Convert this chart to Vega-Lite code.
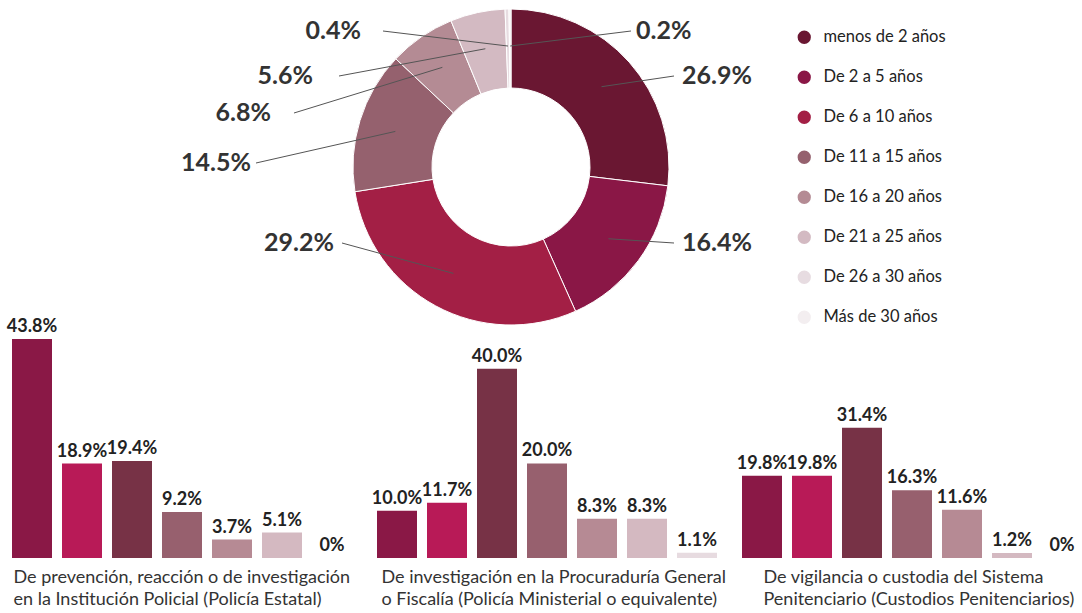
{
  "$schema": "https://vega.github.io/schema/vega-lite/v6.json",
  "padding": {"left": 6, "top": 0, "right": 0, "bottom": 0},
  "bounds": "flush",
  "spacing": 4,
  "config": {"view": {"stroke": null}, "font": "Lato"},
  "datasets": {
    "donut": [
      {"cat": "menos de 2 años", "pct": 26.9},
      {"cat": "De 2 a 5 años", "pct": 16.4},
      {"cat": "De 6 a 10 años", "pct": 29.2},
      {"cat": "De 11 a 15 años", "pct": 14.5},
      {"cat": "De 16 a 20 años", "pct": 6.8},
      {"cat": "De 21 a 25 años", "pct": 5.6},
      {"cat": "De 26 a 30 años", "pct": 0.4},
      {"cat": "Más de 30 años", "pct": 0.2}
    ],
    "bars": [
      {"grupo": "A", "edad": "menos de 2 años", "pct": 43.8},
      {"grupo": "A", "edad": "De 2 a 5 años", "pct": 18.9},
      {"grupo": "A", "edad": "De 6 a 10 años", "pct": 19.4},
      {"grupo": "A", "edad": "De 11 a 15 años", "pct": 9.2},
      {"grupo": "A", "edad": "De 16 a 20 años", "pct": 3.7},
      {"grupo": "A", "edad": "De 21 a 25 años", "pct": 5.1},
      {"grupo": "A", "edad": "De 26 a 30 años", "pct": 0},
      {"grupo": "B", "edad": "menos de 2 años", "pct": 10.0},
      {"grupo": "B", "edad": "De 2 a 5 años", "pct": 11.7},
      {"grupo": "B", "edad": "De 6 a 10 años", "pct": 40.0},
      {"grupo": "B", "edad": "De 11 a 15 años", "pct": 20.0},
      {"grupo": "B", "edad": "De 16 a 20 años", "pct": 8.3},
      {"grupo": "B", "edad": "De 21 a 25 años", "pct": 8.3},
      {"grupo": "B", "edad": "De 26 a 30 años", "pct": 1.1},
      {"grupo": "C", "edad": "menos de 2 años", "pct": 19.8},
      {"grupo": "C", "edad": "De 2 a 5 años", "pct": 19.8},
      {"grupo": "C", "edad": "De 6 a 10 años", "pct": 31.4},
      {"grupo": "C", "edad": "De 11 a 15 años", "pct": 16.3},
      {"grupo": "C", "edad": "De 16 a 20 años", "pct": 11.6},
      {"grupo": "C", "edad": "De 21 a 25 años", "pct": 1.2},
      {"grupo": "C", "edad": "De 26 a 30 años", "pct": 0}
    ]
  },
  "resolve": {"scale": {"color": "independent", "x": "independent", "y": "independent"}, "legend": {"color": "independent"}},
  "vconcat": [
    {
      "width": 1008,
      "height": 334,
      "data": {"name": "donut"},
      "transform": [
        {"window": [{"op": "sum", "field": "pct", "as": "end"}, {"op": "row_number", "as": "i"}], "frame": [null, 0]},
        {"calculate": "datum.end - datum.pct", "as": "start"},
        {"calculate": "(datum.start + datum.end) / 2 * PI / 50", "as": "a"},
        {"calculate": "121 * sin(datum.a)", "as": "sx"},
        {"calculate": "-121 * cos(datum.a)", "as": "sy"},
        {"calculate": "[171, 171, -177, -260, -240, -198, -150, 125][datum.i - 1]", "as": "lx"},
        {"calculate": "[-91, 76, 76, -4, -54, -91, -136, -136][datum.i - 1]", "as": "ly"},
        {"calculate": "[163, 163, -169, -255, -217, -172, -128, 120][datum.i - 1]", "as": "ex"},
        {"calculate": "format(datum.pct, '.1f') + '%'", "as": "lab"}
      ],
      "layer": [
        {
          "mark": {"type": "arc", "outerRadius": 158, "innerRadius": 79, "stroke": "white", "strokeWidth": 1},
          "encoding": {
            "theta": {"field": "start", "type": "quantitative", "scale": {"domain": [0, 100]}},
            "theta2": {"field": "end"},
            "color": {
              "field": "cat", "type": "nominal",
              "scale": {
                "domain": ["menos de 2 años", "De 2 a 5 años", "De 6 a 10 años", "De 11 a 15 años", "De 16 a 20 años", "De 21 a 25 años", "De 26 a 30 años", "Más de 30 años"],
                "range": ["#6a1732", "#8a1746", "#a31f45", "#95616e", "#b48b94", "#d3bac2", "#e7dce1", "#f3eef0"]
              },
              "legend": {
                "title": null, "orient": "none", "legendX": 789, "legendY": 29,
                "symbolType": "circle", "symbolSize": 177, "symbolStrokeWidth": 0,
                "labelFontSize": 16.5, "labelColor": "#222222", "labelFont": "Lato",
                "rowPadding": 23, "labelOffset": 11
              }
            }
          }
        },
        {
          "mark": {"type": "rule", "color": "#555555", "strokeWidth": 1},
          "encoding": {
            "x": {"field": "sx", "type": "quantitative", "scale": {"domain": [-504, 504], "nice": false, "zero": false}, "axis": null},
            "y": {"field": "sy", "type": "quantitative", "scale": {"domain": [-167, 167], "nice": false, "zero": false, "reverse": true}, "axis": null},
            "x2": {"field": "ex"},
            "y2": {"field": "ly"}
          }
        },
        {
          "transform": [{"filter": "datum.lx < 0"}],
          "mark": {"type": "text", "align": "right", "baseline": "middle", "fontSize": 25, "fontWeight": "bold", "color": "#333333"},
          "encoding": {
            "x": {"field": "lx", "type": "quantitative"},
            "y": {"field": "ly", "type": "quantitative"},
            "text": {"field": "lab"}
          }
        },
        {
          "transform": [{"filter": "datum.lx > 0"}],
          "mark": {"type": "text", "align": "left", "baseline": "middle", "fontSize": 25, "fontWeight": "bold", "color": "#333333"},
          "encoding": {
            "x": {"field": "lx", "type": "quantitative"},
            "y": {"field": "ly", "type": "quantitative"},
            "text": {"field": "lab"}
          }
        }
      ]
    },
    {
      "bounds": "flush",
      "spacing": 15,
      "resolve": {"scale": {"y": "independent", "x": "independent"}},
      "hconcat": [
        {
          "width": 350, "height": 220,
          "data": {"name": "bars"},
          "transform": [{"filter": "datum.grupo == 'A'"}, {"calculate": "datum.pct == 0 ? '0%' : format(datum.pct, '.1f') + '%'", "as": "lab"}],
          "encoding": {
            "x": {"field": "edad", "type": "nominal", "sort": null,
              "scale": {"domain": ["menos de 2 años", "De 2 a 5 años", "De 6 a 10 años", "De 11 a 15 años", "De 16 a 20 años", "De 21 a 25 años", "De 26 a 30 años"], "paddingInner": 0.2, "paddingOuter": 0.1},
              "axis": {"labels": false, "ticks": false, "domain": false, "title": ["De prevención, reacción o de investigación", "en la Institución Policial (Policía Estatal)"], "titleFontSize": 18, "titleFontWeight": "normal", "titleColor": "#333333", "titleAnchor": "start", "titleAlign": "left", "titleBaseline": "top", "titleX": 6, "titleY": 10, "titleLineHeight": 22}},
            "y": {"field": "pct", "type": "quantitative", "scale": {"domain": [0, 44], "nice": false}, "axis": null}
          },
          "layer": [
            {"mark": {"type": "bar"},
             "encoding": {"color": {"field": "edad", "type": "nominal", "scale": {"domain": ["menos de 2 años", "De 2 a 5 años", "De 6 a 10 años", "De 11 a 15 años", "De 16 a 20 años", "De 21 a 25 años", "De 26 a 30 años"], "range": ["#8a1846", "#b81a57", "#773246", "#97606e", "#b68a94", "#d4b9c1", "#e7dbe0"]}, "legend": null}}},
            {"mark": {"type": "text", "baseline": "bottom", "dy": -3, "fontSize": 18, "fontWeight": "bold", "color": "#222222"},
             "encoding": {"text": {"field": "lab"}}}
          ]
        },
        {
          "width": 350, "height": 220,
          "data": {"name": "bars"},
          "transform": [{"filter": "datum.grupo == 'B'"}, {"calculate": "datum.pct == 0 ? '0%' : format(datum.pct, '.1f') + '%'", "as": "lab"}],
          "encoding": {
            "x": {"field": "edad", "type": "nominal", "sort": null,
              "scale": {"domain": ["menos de 2 años", "De 2 a 5 años", "De 6 a 10 años", "De 11 a 15 años", "De 16 a 20 años", "De 21 a 25 años", "De 26 a 30 años"], "paddingInner": 0.2, "paddingOuter": 0.1},
              "axis": {"labels": false, "ticks": false, "domain": false, "title": ["De investigación en la Procuraduría General", "o Fiscalía (Policía Ministerial o equivalente)"], "titleFontSize": 18, "titleFontWeight": "normal", "titleColor": "#333333", "titleAnchor": "start", "titleAlign": "left", "titleBaseline": "top", "titleX": 9, "titleY": 10, "titleLineHeight": 22}},
            "y": {"field": "pct", "type": "quantitative", "scale": {"domain": [0, 46.5], "nice": false}, "axis": null}
          },
          "layer": [
            {"mark": {"type": "bar"},
             "encoding": {"color": {"field": "edad", "type": "nominal", "scale": {"domain": ["menos de 2 años", "De 2 a 5 años", "De 6 a 10 años", "De 11 a 15 años", "De 16 a 20 años", "De 21 a 25 años", "De 26 a 30 años"], "range": ["#8a1846", "#b81a57", "#773246", "#97606e", "#b68a94", "#d4b9c1", "#e7dbe0"]}, "legend": null}}},
            {"mark": {"type": "text", "baseline": "bottom", "dy": -3, "fontSize": 18, "fontWeight": "bold", "color": "#222222"},
             "encoding": {"text": {"field": "lab"}}}
          ]
        },
        {
          "width": 350, "height": 220,
          "data": {"name": "bars"},
          "transform": [{"filter": "datum.grupo == 'C'"}, {"calculate": "datum.pct == 0 ? '0%' : format(datum.pct, '.1f') + '%'", "as": "lab"}],
          "encoding": {
            "x": {"field": "edad", "type": "nominal", "sort": null,
              "scale": {"domain": ["menos de 2 años", "De 2 a 5 años", "De 6 a 10 años", "De 11 a 15 años", "De 16 a 20 años", "De 21 a 25 años", "De 26 a 30 años"], "paddingInner": 0.2, "paddingOuter": 0.1},
              "axis": {"labels": false, "ticks": false, "domain": false, "title": ["De vigilancia o custodia del Sistema", "Penitenciario (Custodios Penitenciarios)"], "titleFontSize": 18, "titleFontWeight": "normal", "titleColor": "#333333", "titleAnchor": "start", "titleAlign": "left", "titleBaseline": "top", "titleX": 26, "titleY": 10, "titleLineHeight": 22}},
            "y": {"field": "pct", "type": "quantitative", "scale": {"domain": [0, 53], "nice": false}, "axis": null}
          },
          "layer": [
            {"mark": {"type": "bar"},
             "encoding": {"color": {"field": "edad", "type": "nominal", "scale": {"domain": ["menos de 2 años", "De 2 a 5 años", "De 6 a 10 años", "De 11 a 15 años", "De 16 a 20 años", "De 21 a 25 años", "De 26 a 30 años"], "range": ["#8a1846", "#b81a57", "#773246", "#97606e", "#b68a94", "#d4b9c1", "#e7dbe0"]}, "legend": null}}},
            {"mark": {"type": "text", "baseline": "bottom", "dy": -3, "fontSize": 18, "fontWeight": "bold", "color": "#222222"},
             "encoding": {"text": {"field": "lab"}}}
          ]
        }
      ]
    }
  ]
}
